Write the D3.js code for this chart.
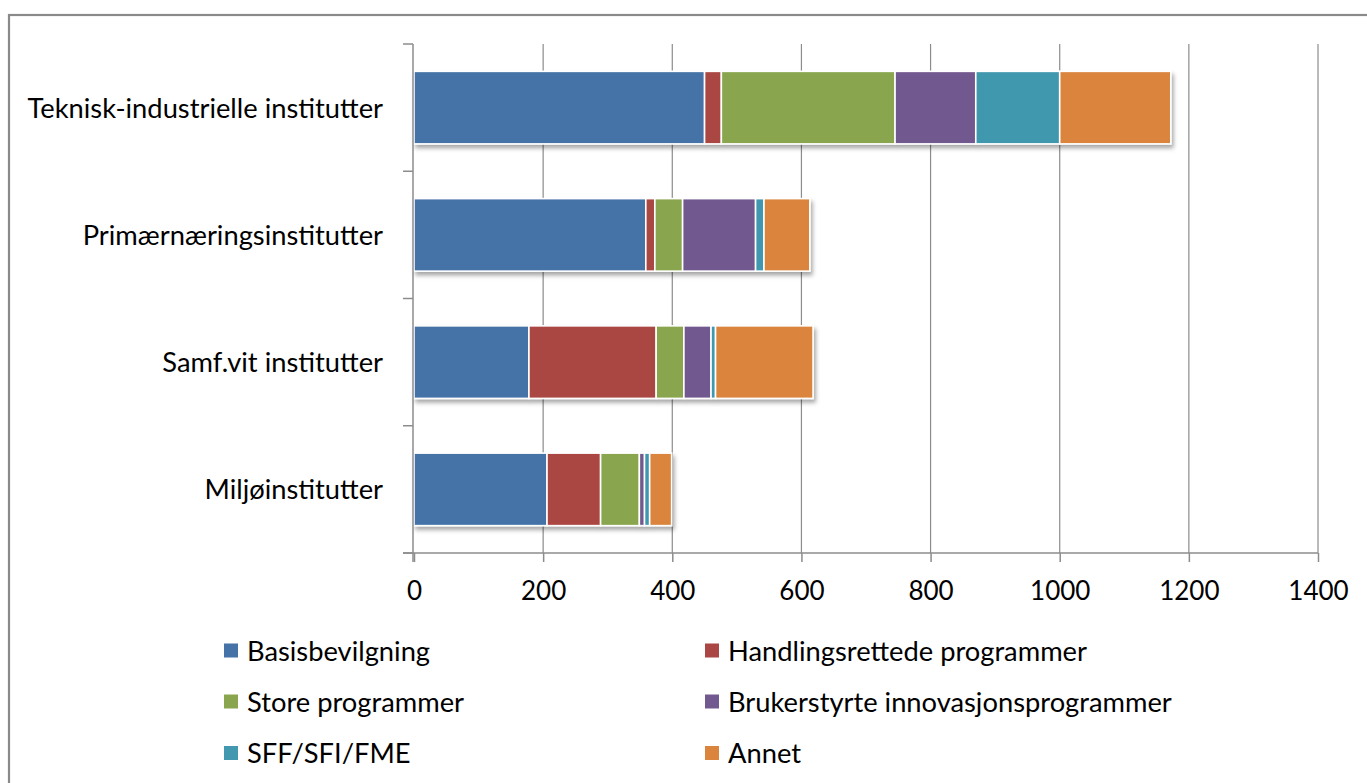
<!DOCTYPE html>
<html>
<head>
<meta charset="utf-8">
<script src="https://cdn.jsdelivr.net/npm/d3@7"></script>
<style>
  html, body { margin: 0; padding: 0; background: #fff; }
  svg { display: block; }
  text { font-family: Lato, "Open Sans", sans-serif; fill: #000; }
</style>
</head>
<body>
<svg id="chart" width="1367" height="783"></svg>
<script>
const categories = ["Teknisk-industrielle institutter", "Primærnæringsinstitutter", "Samf.vit institutter", "Miljøinstitutter"];
const seriesNames = ["Basisbevilgning", "Handlingsrettede programmer", "Store programmer", "Brukerstyrte innovasjonsprogrammer", "SFF/SFI/FME", "Annet"];
const basisbevilgning = [450, 359, 178, 206];
const handlingsrettede = [26, 14, 197, 83];
const storeProgrammer = [269, 43, 43, 60];
const brukerstyrte = [125, 113, 42, 8];
const sffSfiFme = [130, 13, 7, 8];
const annet = [172, 71, 151, 34];
const xTicks = [0, 200, 400, 600, 800, 1000, 1200, 1400];
const colors = ["#4572A7", "#AA4643", "#89A54E", "#71588F", "#4198AF", "#DB843D"];

const seriesValues = [basisbevilgning, handlingsrettede, storeProgrammer, brukerstyrte, sffSfiFme, annet];
const rows = categories.map((c, i) => {
  const r = { cat: c };
  seriesNames.forEach((s, j) => r[s] = seriesValues[j][i]);
  return r;
});

const svg = d3.select("#chart");
const FONT = 27.3;
const TICKFONT = 26;

// outer frame
svg.append("rect").attr("x", 9).attr("y", 15).attr("width", 1400).attr("height", 800)
  .attr("fill", "none").attr("stroke", "#8a8a8a").attr("stroke-width", 2.2);

const x = d3.scaleLinear().domain([0, 1400]).range([414, 1318]);
const y = d3.scaleBand().domain(categories).range([44, 553]).paddingInner(0.43).paddingOuter(0.215);

// shadow filter
const defs = svg.append("defs");
const f = defs.append("filter").attr("id", "shadow").attr("x", "-5%").attr("y", "-20%").attr("width", "115%").attr("height", "150%");
f.append("feDropShadow").attr("dx", 2).attr("dy", 3.5).attr("stdDeviation", 2.2)
  .attr("flood-color", "#000").attr("flood-opacity", 0.35);

// gridlines
svg.append("g").selectAll("line").data(xTicks.filter(t => t > 0)).join("line")
  .attr("x1", d => x(d)).attr("x2", d => x(d)).attr("y1", 44).attr("y2", 553)
  .attr("stroke", "#8c8c8c").attr("stroke-width", 1.2);

// stacked bars
const stack = d3.stack().keys(seriesNames)(rows);
const barsG = svg.append("g");
rows.forEach((r, i) => {
  const g = barsG.append("g").attr("filter", "url(#shadow)");
  stack.forEach((layer, j) => {
    const d = layer[i];
    g.append("rect")
      .attr("x", x(d[0]))
      .attr("y", y(r.cat))
      .attr("width", Math.max(0, x(d[1]) - x(d[0])))
      .attr("height", y.bandwidth())
      .attr("fill", colors[j])
      .attr("stroke", "#fff").attr("stroke-width", 1.6);
  });
});

// y axis (category axis)
const yAxisG = svg.append("g");
yAxisG.append("line").attr("x1", 413).attr("x2", 413).attr("y1", 44).attr("y2", 562)
  .attr("stroke", "#8c8c8c").attr("stroke-width", 1.5);
const bounds = categories.map(c => y(c) - y.step() * y.paddingInner() / 2).concat([553]);
yAxisG.selectAll("line.tk").data(bounds).join("line").attr("class", "tk")
  .attr("x1", 403).attr("x2", 413).attr("y1", d => d).attr("y2", d => d)
  .attr("stroke", "#8c8c8c").attr("stroke-width", 1.5);
yAxisG.selectAll("text").data(categories).join("text")
  .attr("x", 383).attr("y", d => y(d) + y.bandwidth() / 2 + 10)
  .attr("text-anchor", "end").attr("font-size", FONT)
  .text(d => d);

// x axis
const xAxisG = svg.append("g").attr("transform", "translate(0,553)");
const xAxis = d3.axisBottom(x).tickValues(xTicks).tickSize(9).tickPadding(0).tickFormat(d3.format("d"));
xAxisG.call(xAxis);
xAxisG.select(".domain").attr("d", "M403,0H1318").attr("stroke", "#8c8c8c").attr("stroke-width", 1.5);
xAxisG.selectAll(".tick line").attr("stroke", "#8c8c8c").attr("stroke-width", 1.5);
xAxisG.selectAll(".tick text").attr("dy", null).attr("y", 47).attr("font-size", TICKFONT)
  .attr("font-family", "Lato, 'Open Sans', sans-serif").attr("fill", "#000");

// legend
const legend = svg.append("g");
const colX = [224, 705];
const rowY = [650.5, 701.5, 753];
seriesNames.forEach((s, i) => {
  const cx = colX[i % 2], cy = rowY[Math.floor(i / 2)];
  legend.append("rect").attr("x", cx).attr("y", cy - 7).attr("width", 14).attr("height", 14).attr("fill", colors[i]);
  legend.append("text").attr("x", cx + 23).attr("y", cy + 10).attr("font-size", FONT).text(s);
});
</script>
</body>
</html>
